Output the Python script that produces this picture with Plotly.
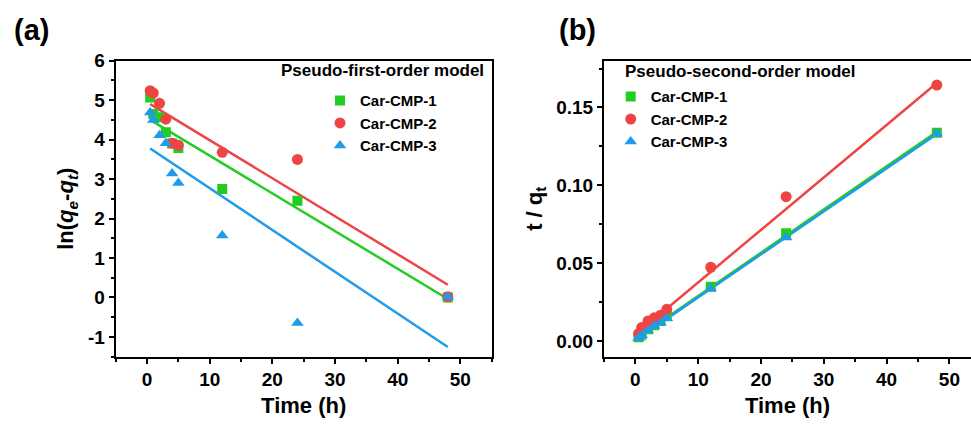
import plotly.graph_objects as go

# ---------------- data ----------------
time_h = [0.5, 1, 2, 3, 4, 5, 12, 24, 48]

# (a) pseudo-first-order: ln(qe - qt)
cmp1_ln = [5.07, 4.65, 4.57, 4.19, 3.90, 3.79, 2.75, 2.45, 0.00]
cmp2_ln = [5.24, 5.18, 4.92, 4.52, 3.91, 3.86, 3.68, 3.50, 0.02]
cmp3_ln = [4.69, 4.50, 4.11, 3.91, 3.14, 2.90, 1.57, -0.65, 0.02]

# (b) pseudo-second-order: t / qt
cmp1_tq = [0.0025, 0.0040, 0.0076, 0.0102, 0.0129, 0.0159, 0.0348, 0.0692, 0.1337]
cmp2_tq = [0.0048, 0.0087, 0.0128, 0.0149, 0.0165, 0.0204, 0.0474, 0.0927, 0.1644]
cmp3_tq = [0.0020, 0.0037, 0.0067, 0.0096, 0.0118, 0.0146, 0.0336, 0.0665, 0.1331]

# linear fits (slope, intercept)
fit_a = {"Car-CMP-1": (-0.0956, 4.55), "Car-CMP-2": (-0.0964, 4.95), "Car-CMP-3": (-0.106, 3.83)}
fit_b = {"Car-CMP-1": (0.002775, 0.0012), "Car-CMP-2": (0.00337, 0.0040), "Car-CMP-3": (0.00276, 0.0005)}
fit_span = [0.5, 48]

# tick labels
ya_vals = [-1, 0, 1, 2, 3, 4, 5, 6]
ya_text = ["-1", "0", "1", "2", "3", "4", "5", "6"]
yb_vals = [0.0, 0.05, 0.10, 0.15]
yb_text = ["0.00", "0.05", "0.10", "0.15"]
x_vals = [0, 10, 20, 30, 40, 50]
x_text = ["0", "10", "20", "30", "40", "50"]

names = ["Car-CMP-1", "Car-CMP-2", "Car-CMP-3"]
colors = {"Car-CMP-1": "#22CC22", "Car-CMP-2": "#EE4444", "Car-CMP-3": "#1E9BEA"}
symbols = {"Car-CMP-1": "square", "Car-CMP-2": "circle", "Car-CMP-3": "triangle-up"}
sizes = {"Car-CMP-1": 10, "Car-CMP-2": 11, "Car-CMP-3": 11}

FONT = "Liberation Sans, Arial, sans-serif"
W, H = 971, 424

fig = go.Figure()

series_a = {"Car-CMP-1": cmp1_ln, "Car-CMP-2": cmp2_ln, "Car-CMP-3": cmp3_ln}
series_b = {"Car-CMP-1": cmp1_tq, "Car-CMP-2": cmp2_tq, "Car-CMP-3": cmp3_tq}

for panel, series, fits, xa, ya, leg in [
    ("a", series_a, fit_a, "x", "y", "legend"),
    ("b", series_b, fit_b, "x2", "y2", "legend2"),
]:
    for n in names:
        m, c = fits[n]
        fig.add_trace(go.Scatter(
            x=fit_span, y=[m * fit_span[0] + c, m * fit_span[1] + c],
            mode="lines", line=dict(color=colors[n], width=2.5),
            xaxis=xa, yaxis=ya, showlegend=False, hoverinfo="skip"))
    for n in names:
        fig.add_trace(go.Scatter(
            x=time_h, y=series[n], mode="markers", name=n,
            marker=dict(symbol=symbols[n], size=sizes[n], color=colors[n], line=dict(width=0)),
            xaxis=xa, yaxis=ya, legend=leg))

# ---------------- layout ----------------
ydom = [1 - 355 / H, 1 - 52 / H]
tickfont = dict(family=FONT, size=19, color="black", weight="bold")
titlefont = dict(family=FONT, size=22, color="black", weight="bold")

def xaxis_cfg(domain, rng):
    return dict(
        domain=domain, range=rng, tickmode="array", tickvals=x_vals, ticktext=x_text,
        ticks="outside", ticklen=5, tickwidth=1.5, tickcolor="black",
        minor=dict(dtick=5, tick0=0, ticks="outside", ticklen=3, tickwidth=1.5, tickcolor="black"),
        showline=True, linecolor="black", linewidth=2, mirror=True,
        showgrid=False, zeroline=False, tickfont=tickfont,
        title=dict(text="Time (h)", font=titlefont, standoff=8),
    )

fig.update_layout(
    width=W, height=H,
    margin=dict(l=0, r=0, t=0, b=0),
    paper_bgcolor="white", plot_bgcolor="white",
    showlegend=True,
    xaxis=xaxis_cfg([115.7 / W, 491.7 / W], [-5, 55]),
    xaxis2=xaxis_cfg([604 / W, 1.0], [-5, (971 - 604) / 6.28 - 5]) | dict(anchor="y2"),
    yaxis=dict(
        domain=ydom, range=[-1.5, 6], tickmode="array", tickvals=ya_vals, ticktext=ya_text,
        ticks="outside", ticklen=5, tickwidth=1.5, tickcolor="black",
        minor=dict(dtick=0.5, tick0=0, ticks="outside", ticklen=3, tickwidth=1.5, tickcolor="black"),
        showline=True, linecolor="black", linewidth=2, mirror=True,
        showgrid=False, zeroline=False, tickfont=tickfont,
        title=dict(text="ln(<i>q</i><sub><i>e</i></sub>-<i>q</i><sub><i>t</i></sub>)",
                   font=titlefont, standoff=8),
    ),
    yaxis2=dict(
        domain=ydom, range=[-0.01, 0.18], anchor="x2", tickmode="array",
        tickvals=yb_vals, ticktext=yb_text,
        ticks="outside", ticklen=5, tickwidth=1.5, tickcolor="black",
        minor=dict(dtick=0.025, tick0=0, ticks="outside", ticklen=3, tickwidth=1.5, tickcolor="black"),
        showline=True, linecolor="black", linewidth=2, mirror=False,
        showgrid=False, zeroline=False, tickfont=tickfont,
        title=dict(text="t / q<sub>t</sub>", font=titlefont, standoff=8),
    ),
    legend=dict(
        x=(341 - 21) / W, y=1 - 76 / H, xanchor="left", yanchor="top",
        bgcolor="rgba(0,0,0,0)", borderwidth=0,
        font=dict(family=FONT, size=15, color="black", weight="bold"),
        tracegroupgap=0,
    ),
    legend2=dict(
        x=(631.7 - 21) / W, y=1 - 72 / H, xanchor="left", yanchor="top",
        bgcolor="rgba(0,0,0,0)", borderwidth=0,
        font=dict(family=FONT, size=15, color="black", weight="bold"),
        tracegroupgap=0,
    ),
    annotations=[
        dict(text="(a)", x=31 / W, y=1 - 20 / H, xref="paper", yref="paper",
             xanchor="center", yanchor="middle",
             showarrow=False, font=dict(family=FONT, size=29, color="black", weight="bold")),
        dict(text="(b)", x=577 / W, y=1 - 20 / H, xref="paper", yref="paper",
             xanchor="center", yanchor="middle",
             showarrow=False, font=dict(family=FONT, size=29, color="black", weight="bold")),
        dict(text="Pseudo-first-order model", x=279 / W, y=1 - 62 / H, xref="paper", yref="paper",
             xanchor="left", yanchor="middle", showarrow=False,
             font=dict(family=FONT, size=17, color="black", weight="bold")),
        dict(text="Pseudo-second-order model", x=623 / W, y=1 - 63 / H, xref="paper", yref="paper",
             xanchor="left", yanchor="middle", showarrow=False,
             font=dict(family=FONT, size=17, color="black", weight="bold")),
    ],
)

fig.write_html("out.html")
